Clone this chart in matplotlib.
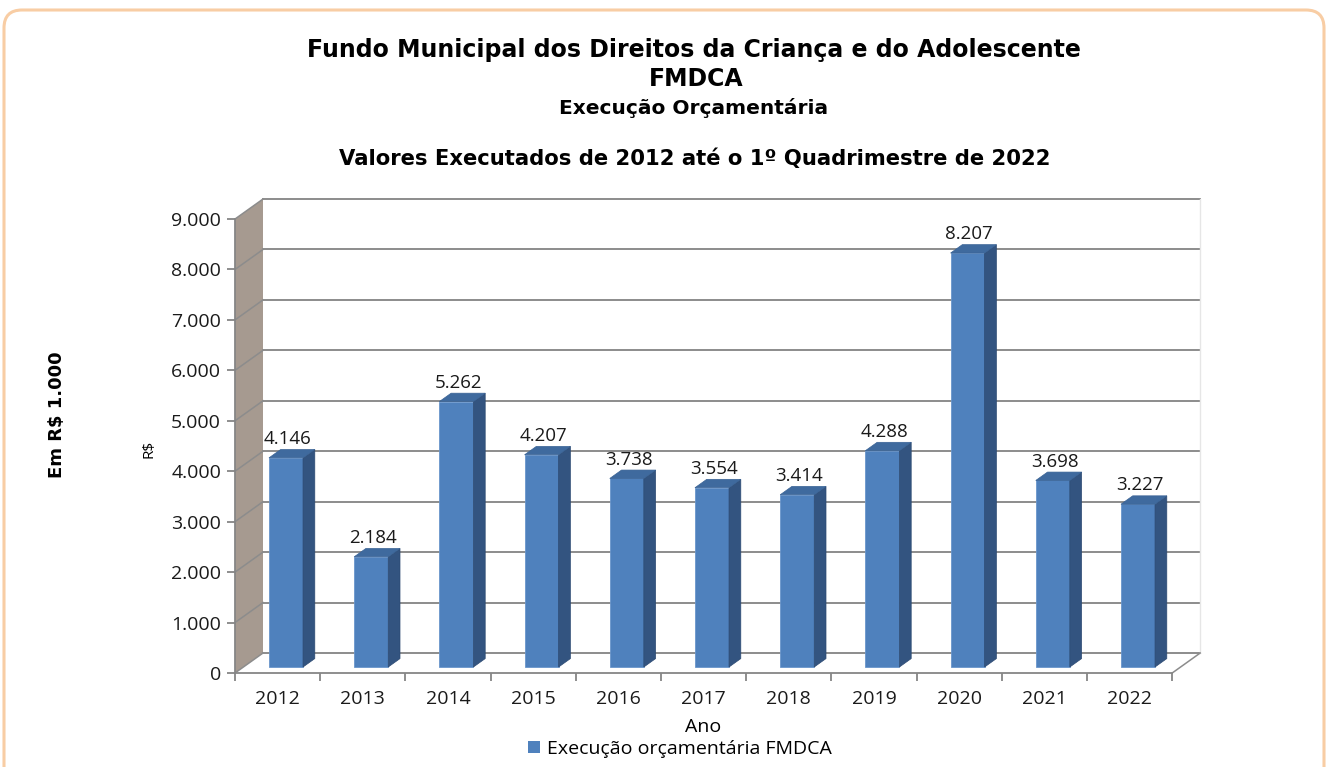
import matplotlib
matplotlib.use("Agg")
import matplotlib.pyplot as plt
from matplotlib.patches import Polygon, Rectangle, FancyBboxPatch

# data
anos = ["2012", "2013", "2014", "2015", "2016", "2017", "2018", "2019", "2020", "2021", "2022"]
valores = [4146, 2184, 5262, 4207, 3738, 3554, 3414, 4288, 8207, 3698, 3227]
y_ticks = [0, 1000, 2000, 3000, 4000, 5000, 6000, 7000, 8000, 9000]


def fmt(v):
    # brazilian thousands separator
    return f"{v:,}".replace(",", ".")


W, H = 1328, 767
fig = plt.figure(figsize=(W / 100, H / 100), dpi=100)

# background frame
bg = fig.add_axes([0, 0, 1, 1], zorder=-5)
bg.set_xlim(0, W)
bg.set_ylim(H, 0)
bg.axis("off")
bg.add_patch(FancyBboxPatch((4, 10), W - 8, H + 40, boxstyle="round,pad=0,rounding_size=18",
                            ec="#F8CDA4", fc="white", lw=2.2))

# axes placed so that data coords map to the chart's pixel grid
ax_l, ax_r, ax_t, ax_b = 150, 1240, 180, 700
x0, y0 = 235, 673          # front origin in pixels
px_cat = 85.2              # pixels per category
px_val = 50.44 / 1000      # pixels per value unit
ax = fig.add_axes([ax_l / W, 1 - ax_b / H, (ax_r - ax_l) / W, (ax_b - ax_t) / H])
ax.set_xlim((ax_l - x0) / px_cat, (ax_r - x0) / px_cat)
ax.set_ylim(-(ax_b - y0) / px_val, (y0 - ax_t) / px_val)
ax.patch.set_alpha(0)

n = len(anos)
DX = 28 / px_cat           # depth offset, x
DY = 20 / px_val           # depth offset, y
top = y_ticks[-1]
grid_c = "#8C8C8C"

# left wall
ax.add_patch(Polygon([(0, 0), (0, top), (DX, top + DY), (DX, DY)], closed=True,
                     fc="#A69A90", ec="none", zorder=1))
for v in y_ticks:
    ax.plot([0, DX], [v, v + DY], color=grid_c, lw=1.1, zorder=2)
    ax.plot([DX, n + DX], [v + DY, v + DY], color=grid_c, lw=1.4, zorder=2)
ax.plot([n + DX, n + DX], [DY, top + DY], color="#E6E6E6", lw=1, zorder=2)
ax.plot([n, n + DX], [0, DY], color=grid_c, lw=1.1, zorder=2)

# 3d bars
w = 0.4
d_front, d_back = 0.3, 0.72
dd = d_back - d_front
for i, v in enumerate(valores):
    xl = i + 0.5 - w / 2 + d_front * DX
    xr = xl + w
    yb = d_front * DY
    yt = yb + v
    ax.add_patch(Rectangle((xl, yb), w, v, fc="#4F81BD", ec="#6A96CC", lw=0.6, zorder=4))
    ax.add_patch(Polygon([(xr, yb), (xr, yt), (xr + dd * DX, yt + dd * DY), (xr + dd * DX, yb + dd * DY)],
                         closed=True, fc="#335480", ec="#2C4A72", lw=0.5, zorder=4))
    ax.add_patch(Polygon([(xl, yt), (xr, yt), (xr + dd * DX, yt + dd * DY), (xl + dd * DX, yt + dd * DY)],
                         closed=True, fc="#3F6A9E", ec="#3A6395", lw=0.5, zorder=4))
    ax.text(i + 0.5 + d_front * DX + 0.02, yt + dd * DY + 30, fmt(v), ha="center", va="bottom",
            fontsize=13.5, family="Open Sans", color="#1A1A1A", zorder=5)

# front axes
for s in ["top", "right"]:
    ax.spines[s].set_visible(False)
ax.spines["left"].set_position(("data", 0))
ax.spines["bottom"].set_position(("data", 0))
ax.spines["left"].set_bounds(0, top)
ax.spines["bottom"].set_bounds(0, n)
ax.spines["left"].set_color("#868686")
ax.spines["bottom"].set_color("#868686")
ax.spines["left"].set_linewidth(1.3)
ax.spines["bottom"].set_linewidth(1.3)
ax.spines["left"].set_zorder(3)
ax.spines["bottom"].set_zorder(3)

ax.set_yticks(y_ticks)
ax.set_yticklabels([fmt(v) for v in y_ticks])
ax.set_xticks(range(n + 1))
ax.set_xticklabels([])
ax.set_xticks([i + 0.5 for i in range(n)], minor=True)
ax.set_xticklabels(anos, minor=True)
ax.tick_params(axis="x", which="major", length=6, width=1.3, color="#868686")
ax.tick_params(axis="x", which="minor", length=0, pad=12, labelsize=14)
ax.tick_params(axis="y", length=6, width=1.3, color="#868686", pad=4, labelsize=14)
for lab in ax.get_xticklabels(minor=True) + ax.get_yticklabels():
    lab.set_family("Open Sans")
    lab.set_color("#1A1A1A")

# titles and labels
tf = "DejaVu Sans"
fig.text(694 / W, 1 - 50 / H, "Fundo Municipal dos Direitos da Criança e do Adolescente",
         ha="center", va="center", fontsize=17, fontweight="bold", family=tf)
fig.text(696 / W, 1 - 79 / H, "FMDCA", ha="center", va="center", fontsize=17,
         fontweight="bold", family=tf)
fig.text(694 / W, 1 - 108 / H, "Execução Orçamentária", ha="center", va="center",
         fontsize=14.5, fontweight="bold", family=tf)
fig.text(695 / W, 1 - 159 / H, "Valores Executados de 2012 até o 1º Quadrimestre de 2022",
         ha="center", va="center", fontsize=15.2, fontweight="bold", family=tf)
fig.text(57 / W, 1 - 415 / H, "Em R$ 1.000", ha="center", va="center", rotation=90,
         fontsize=13, fontweight="bold", family=tf)
fig.text(149 / W, 1 - 449 / H, "R$", ha="center", va="center", rotation=90,
         fontsize=11, family="Open Sans")
fig.text(703 / W, 1 - 727 / H, "Ano", ha="center", va="center", fontsize=14, family="Open Sans")

handle = Rectangle((0, 0), 1, 1, fc="#4F81BD", ec="none")
fig.legend([handle], ["Execução orçamentária FMDCA"], loc="center", bbox_to_anchor=(680 / W, 1 - 749 / H),
           frameon=False, handlelength=0.6, handleheight=0.6, handletextpad=0.35,
           borderpad=0, prop={"family": "Open Sans", "size": 14})

fig.savefig("out.png", dpi=100)
